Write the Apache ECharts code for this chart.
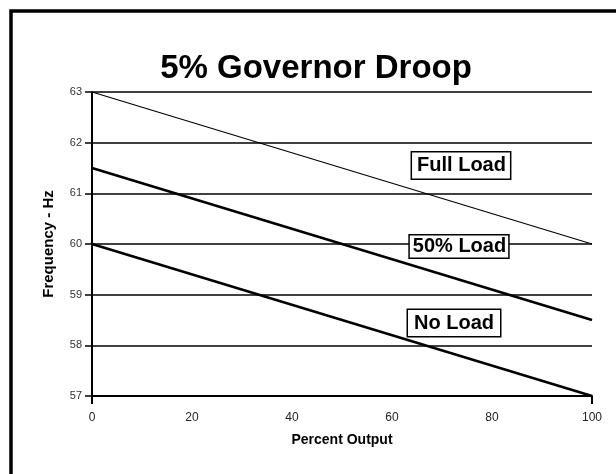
<!DOCTYPE html>
<html>
<head>
<meta charset="utf-8">
<script src="https://cdn.jsdelivr.net/npm/echarts@6/dist/echarts.min.js"></script>
<style>
html,body{margin:0;padding:0;background:#fff;}
#c{width:616px;height:474px;}
</style>
</head>
<body>
<div id="c"></div>
<script>
var titleText = '5% Governor Droop';
var xAxisName = 'Percent Output';
var yAxisName = 'Frequency - Hz';
var xValues = [0, 100];
var fullLoad = [63, 60];
var halfLoad = [61.5, 58.5];
var noLoad = [60, 57];
var seriesNames = ['Full Load', '50% Load', 'No Load'];
var labelX = [73.8, 73.4, 72.4];
var labelY = [61.55, 59.95, 58.44];

function pairs(ys) { return xValues.map(function (x, i) { return [x, ys[i]]; }); }

var chart = echarts.init(document.getElementById('c'), null, { renderer: 'canvas' });
var font = 'Liberation Sans, Arial, sans-serif';
var pads = [[3, 4, 3, 5], [1, 2, 1, 3], [3, 6, 3, 6]];
var widths = [1.2, 2.6, 2.6];
var datas = [fullLoad, halfLoad, noLoad];

var series = datas.map(function (d, i) {
  return {
    name: seriesNames[i],
    type: 'line',
    data: pairs(d),
    symbol: 'none',
    xAxisIndex: 0,
    lineStyle: { color: '#000', width: widths[i] },
    z: 3,
    markPoint: {
      symbol: 'rect',
      symbolSize: 0,
      data: [{ coord: [labelX[i], labelY[i]], value: seriesNames[i] }],
      label: {
        show: true,
        position: 'inside',
        formatter: seriesNames[i],
        fontFamily: font,
        fontWeight: 'bold',
        fontSize: 20,
        color: '#000',
        backgroundColor: '#fff',
        borderColor: '#000',
        borderWidth: 1.5,
        padding: pads[i]
      },
      z: 10
    }
  };
});

chart.setOption({
  animation: false,
  backgroundColor: '#fff',
  title: {
    text: titleText,
    left: 311,
    textAlign: 'center',
    top: 47,
    textStyle: { fontFamily: font, fontWeight: 'bold', fontSize: 33, color: '#000' }
  },
  grid: { left: 92, right: 24, top: 92, bottom: 78 },
  xAxis: [{
    type: 'value', min: 0, max: 100, interval: 20,
    name: xAxisName, nameLocation: 'middle', nameGap: 37,
    nameTextStyle: { fontFamily: font, fontWeight: 'bold', fontSize: 14, color: '#000' },
    axisLine: { lineStyle: { color: '#000', width: 2 } },
    axisTick: { show: false },
    splitLine: { show: false },
    axisLabel: {
      margin: 16, fontFamily: font, fontSize: 12, color: '#222',
      formatter: function (v) { return (v === 20 || v === 60) ? '{hi|' + v + '}' : '{n|' + v + '}'; },
      rich: { hi: { padding: [0, 0, 5, 0], fontSize: 12, fontFamily: font, color: '#222' }, n: { fontSize: 12, fontFamily: font, color: '#222' } }
    }
  }, {
    type: 'value', min: 0, max: 100, interval: 100, position: 'bottom',
    axisLine: { show: false },
    axisTick: { show: true, length: 8, lineStyle: { color: '#000', width: 2 } },
    axisLabel: { show: false },
    splitLine: { show: false }
  }],
  yAxis: {
    type: 'value', min: 57, max: 63, interval: 1,
    name: yAxisName, nameLocation: 'middle', nameGap: 36,
    nameTextStyle: { fontFamily: font, fontWeight: 'bold', fontSize: 15, color: '#000' },
    axisLine: { show: true, lineStyle: { color: '#000', width: 2 } },
    axisTick: { show: true, length: 7, lineStyle: { color: '#000', width: 1.5 } },
    splitLine: { show: true, lineStyle: { color: '#000', width: 1.5 } },
    axisLabel: { margin: 10, fontFamily: font, fontSize: 11, color: '#333' }
  },
  graphic: [{
    type: 'polyline',
    shape: { points: [[11, 480], [11, 11], [620, 11]] },
    style: { stroke: '#000', lineWidth: 3.5, fill: null },
    z: 100
  }],
  series: series
});
</script>
</body>
</html>
